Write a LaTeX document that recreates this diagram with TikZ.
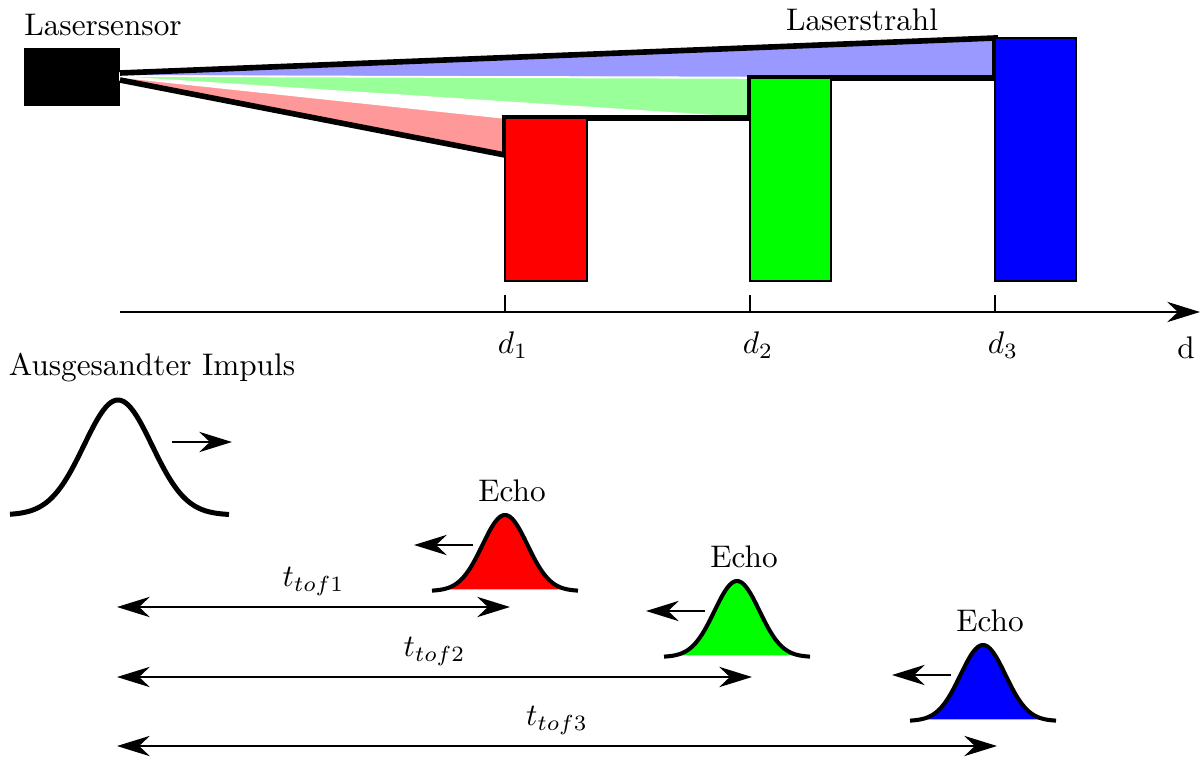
\documentclass[tikz,border=0pt]{standalone}
\usepackage{tikz}
\usetikzlibrary{arrows.meta}
\tikzset{beamline/.style={draw=black,line width=1.8pt,line join=miter},beamfill/.style={draw=white,line width=.5pt},
targetbox/.style={draw=black,line width=.45pt},axisline/.style={line width=.65pt,-{Stealth[length=10.5pt,width=6.5pt]}},
pulseline/.style={line width=1.6pt,line join=round},echoline/.style={line width=1.3pt,line join=round},
movearrow/.style={line width=.6pt,-{Stealth[length=10.5pt,width=6.5pt]}},
tofarrow/.style={line width=.6pt,{Stealth[length=10.5pt,width=6.5pt]}-{Stealth[length=10.5pt,width=6.5pt]}},note/.style={font=\normalsize}}
\begin{document}
\begin{tikzpicture}[x=.32pt,y=-.32pt]
\useasboundingbox (0,0) rectangle (1204,758);
% sensor and beam
\fill[black] (24,48) rectangle (120,106);
\node[note] (sensor) at (103,25) {Lasersensor};
\filldraw[beamfill,fill=blue!40] (120,73) -- (995,38) -- (995,78) -- (120,76) -- cycle;
\filldraw[beamfill,fill=green!40] (120,76) -- (750,78) -- (750,118) -- (120,77) -- cycle;
\filldraw[beamfill,fill=red!40] (120,77) -- (505,118) -- (505,155) -- (120,80) -- cycle;
\draw[beamline] (120,73) -- (995,38) -- (995,78) -- (750,78) -- (750,118) -- (505,118) -- (505,155) -- (120,80);
\node[note] (beam) at (862,20) {Laserstrahl};
% targets
\filldraw[targetbox,fill=red] (505,118) rectangle (587,281);
\filldraw[targetbox,fill=green] (750,78) rectangle (831,281);
\filldraw[targetbox,fill=blue] (995,38) rectangle (1076,281);
% distance axis
\coordinate (o) at (120,312);
\coordinate (dend) at (1200,312);
\draw[axisline] (o) -- (dend);
\foreach \i/\xd in {1/505,2/750,3/995}{
  \draw[line width=.5pt] (\xd,295) -- (\xd,312);
  \node[note] (d\i) at (\xd+8,345) {$d_\i$};
}
\node[note] (dlabel) at (1186,348) {d};
% emitted pulse
\node[note] (impuls) at (152,368) {Ausgesandter Impuls};
\draw[pulseline] plot[domain=10:229,samples=90,smooth] (\x,{515-115*exp(-((\x-118)*(\x-118))/(2*34*34))});
\coordinate (p0) at (172,442);
\coordinate (p1) at (232,442);
\draw[movearrow] (p0) -- (p1);
% echoes
\foreach \i/\c/\b/\col in {1/505/591/red,2/737/657/green,3/983/721/blue}{
  \fill[\col] plot[domain=\c-62:\c+62,samples=60,smooth] (\x,{\b-76*exp(-((\x-\c)*(\x-\c))/(2*22.5*22.5))}) -- cycle;
  \draw[echoline] plot[domain=\c-73:\c+73,samples=70,smooth] (\x,{\b-76*exp(-((\x-\c)*(\x-\c))/(2*22.5*22.5))});
  \node[note] (echo\i) at (\c+7,\b-100) {Echo};
  \coordinate (ea\i) at (\c-32,\b-46);
  \coordinate (eb\i) at (\c-91,\b-46);
  \draw[movearrow] (ea\i) -- (eb\i);
}
% time of flight
\foreach \i/\xe/\y in {1/510/607,2/752/677,3/997/746}{
  \coordinate (ts\i) at (117,\y);
  \coordinate (te\i) at (\xe,\y);
  \draw[tofarrow] (ts\i) -- (te\i) node[note,midway,above] (tof\i) {$t_{tof\i}$};
}
\end{tikzpicture}
\end{document}
